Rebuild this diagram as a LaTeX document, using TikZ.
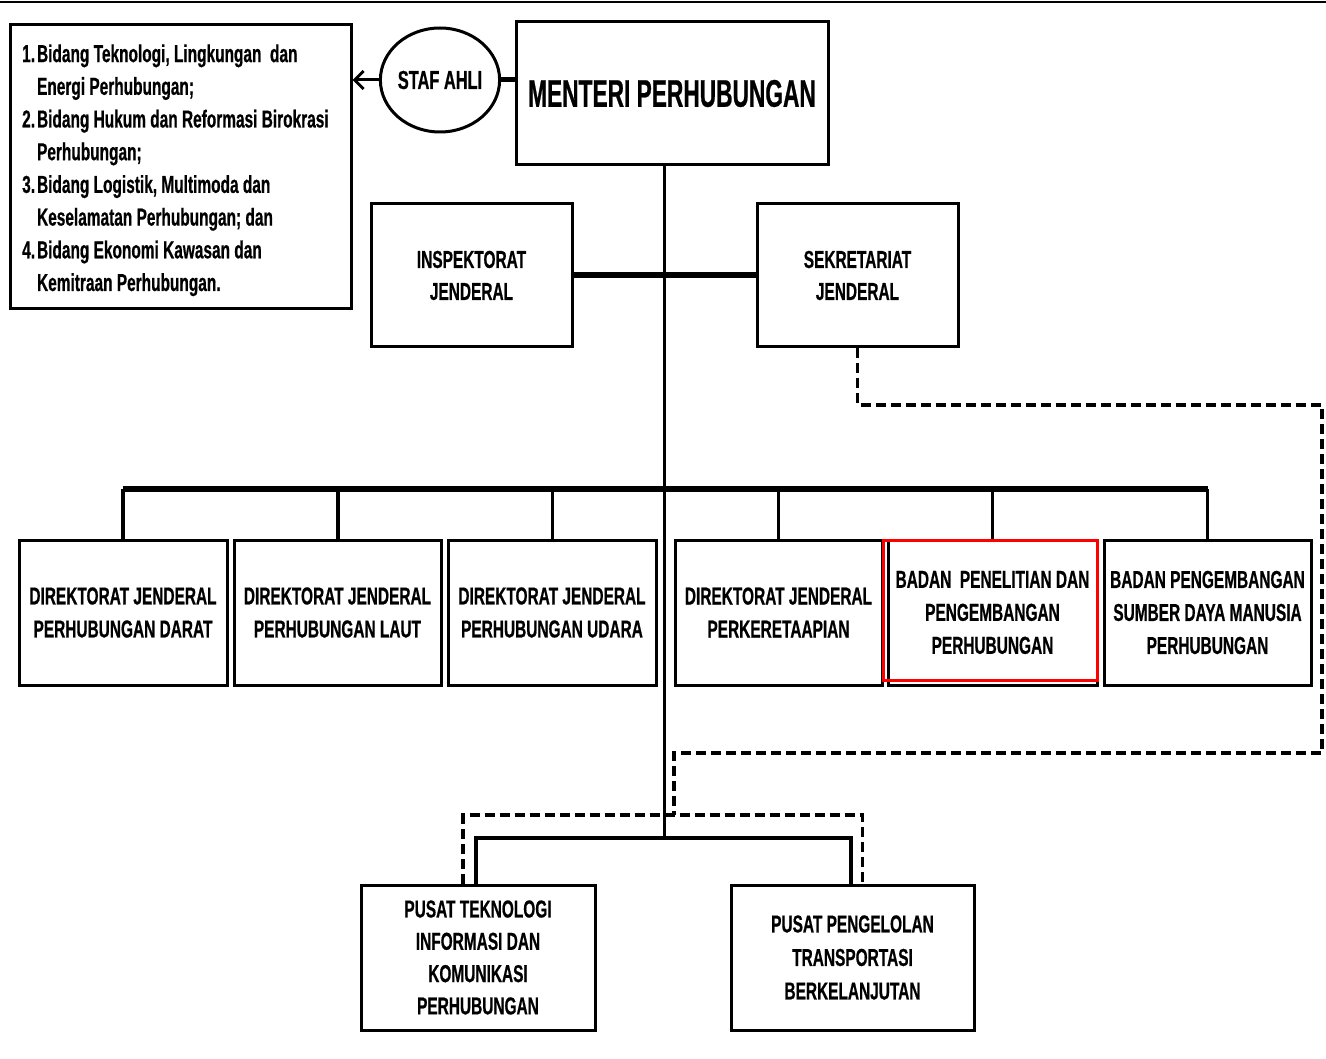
\documentclass[tikz,border=0pt]{standalone}
\usepackage{fontspec}
\setmainfont{Liberation Sans}[FakeStretch=0.63,BoldFeatures={FakeBold=0.6}]
\newfontfamily\mfont{Liberation Sans}[FakeStretch=0.59,BoldFeatures={FakeBold=0.6}]
\usetikzlibrary{arrows.meta,calc,shapes.geometric}
\begin{document}
\begin{tikzpicture}[x=1pt,y=-1pt,
  box/.style={draw,line width=3pt,fill=white,inner sep=0pt,align=center,
    font=\bfseries\fontsize{24.5}{33}\selectfont},
  rowbox/.style={box,minimum height=145pt},
  bus/.style={line width=6pt},
  thinline/.style={line width=3pt},
  dashline/.style={line width=3.5pt,dash pattern=on 10pt off 5pt}]
\useasboundingbox (0,0) rectangle (1326,1059);
\draw[line width=2.5pt] (0,2) -- (1326,2);

% top
\node[box,minimum width=312pt,minimum height=143pt,font=\mfont\bfseries\fontsize{38.5}{40}\selectfont] (men) at (672,93.5) {MENTERI PERHUBUNGAN};
\node[draw,ellipse,line width=3pt,fill=white,inner sep=0pt,minimum width=116pt,minimum height=104pt,
  font=\bfseries\fontsize{26}{30}\selectfont] (staf) at (440,80) {STAF AHLI};
\node[draw,line width=3pt,fill=white,minimum width=341pt,minimum height=284pt] (list) at (180.5,167) {};
\node[inner sep=0pt,anchor=north west,font=\bfseries\fontsize{24.5}{32.7}\selectfont] (listtxt) at (22,39) {%
  \begin{tabular}{@{}l@{\hspace{2pt}}l@{}}
  1. & Bidang Teknologi, Lingkungan\ \ dan\\
     & Energi Perhubungan;\\
  2. & Bidang Hukum dan Reformasi Birokrasi\\
     & Perhubungan;\\
  3. & Bidang Logistik, Multimoda dan\\
     & Keselamatan Perhubungan; dan\\
  4. & Bidang Ekonomi Kawasan dan\\
     & Kemitraan Perhubungan.
  \end{tabular}};

\node[box,minimum width=201pt,minimum height=143pt,font=\bfseries\fontsize{24.5}{32}\selectfont] (ins) at (471.5,275.5) {INSPEKTORAT\\JENDERAL};
\node[box,minimum width=201pt,minimum height=143pt,font=\bfseries\fontsize{24.5}{32}\selectfont] (sek) at (857.5,275.5) {SEKRETARIAT\\JENDERAL};

% row
\node[rowbox,minimum width=208pt] (b1) at (123,612.5) {DIREKTORAT JENDERAL\\PERHUBUNGAN DARAT};
\node[rowbox,minimum width=207pt] (b2) at (337.5,612.5) {DIREKTORAT JENDERAL\\PERHUBUNGAN LAUT};
\node[rowbox,minimum width=208pt] (b3) at (552,612.5) {DIREKTORAT JENDERAL\\PERHUBUNGAN UDARA};
\node[rowbox,minimum width=207pt] (b4) at (778.5,612.5) {DIREKTORAT JENDERAL\\PERKERETAAPIAN};
\node[rowbox,minimum width=209pt] (b5) at (992.5,612.5) {BADAN\ \ PENELITIAN DAN\\PENGEMBANGAN\\PERHUBUNGAN};
\node[rowbox,minimum width=207pt] (b6) at (1207.5,612.5) {BADAN PENGEMBANGAN\\SUMBER DAYA MANUSIA\\PERHUBUNGAN};
\draw[red,line width=2.5pt] ($(b5.south west)+(-3,-6)$) rectangle ($(b5.north east)+(-1,2)$);

% bottom
\node[rowbox,minimum width=234pt,font=\bfseries\fontsize{24.5}{32.3}\selectfont] (p1) at (478,957.5) {PUSAT TEKNOLOGI\\INFORMASI DAN\\KOMUNIKASI\\PERHUBUNGAN};
\node[rowbox,minimum width=243pt,font=\bfseries\fontsize{24.5}{33.5}\selectfont] (p2) at (852.5,957.5) {PUSAT PENGELOLAN\\TRANSPORTASI\\BERKELANJUTAN};

% connectors
\coordinate (jb) at (664,838);
\coordinate (rb) at (664,489);
\coordinate (c1) at (1322,405);
\coordinate (c2) at (674,753);
\coordinate (d2) at (674,815);

\draw[thinline] (men.south -| jb) -- (jb);
\draw[bus] (ins.east) -- (sek.west);
\draw[line width=5pt] (staf.east) -- (staf.east -| men.west);
\draw[line width=3pt,-{Straight Barb[length=9pt,width=18pt]}] (staf.west) -- (staf.west -| list.east);

\draw[bus] (b1.north |- rb) -- (b6.north |- rb);
\draw[line width=4pt] (b1.north) -- (b1.north |- rb);
\draw[line width=4pt] (b2.north) -- (b2.north |- rb);
\foreach \b in {b3,b4,b5,b6} \draw[thinline] (\b.north) -- (\b.north |- rb);

\draw[line width=4pt] ($(p1.north)+(-2,0)$) |- (jb) -| ($(p2.north)+(-2,0)$);
\draw[dashline] (sek.south) |- (c1) |- (c2) -- (d2);
\draw[dashline] ($(p1.north)+(-15,0)$) |- (d2) -| ($(p2.north)+(10,0)$);
\end{tikzpicture}
\end{document}
